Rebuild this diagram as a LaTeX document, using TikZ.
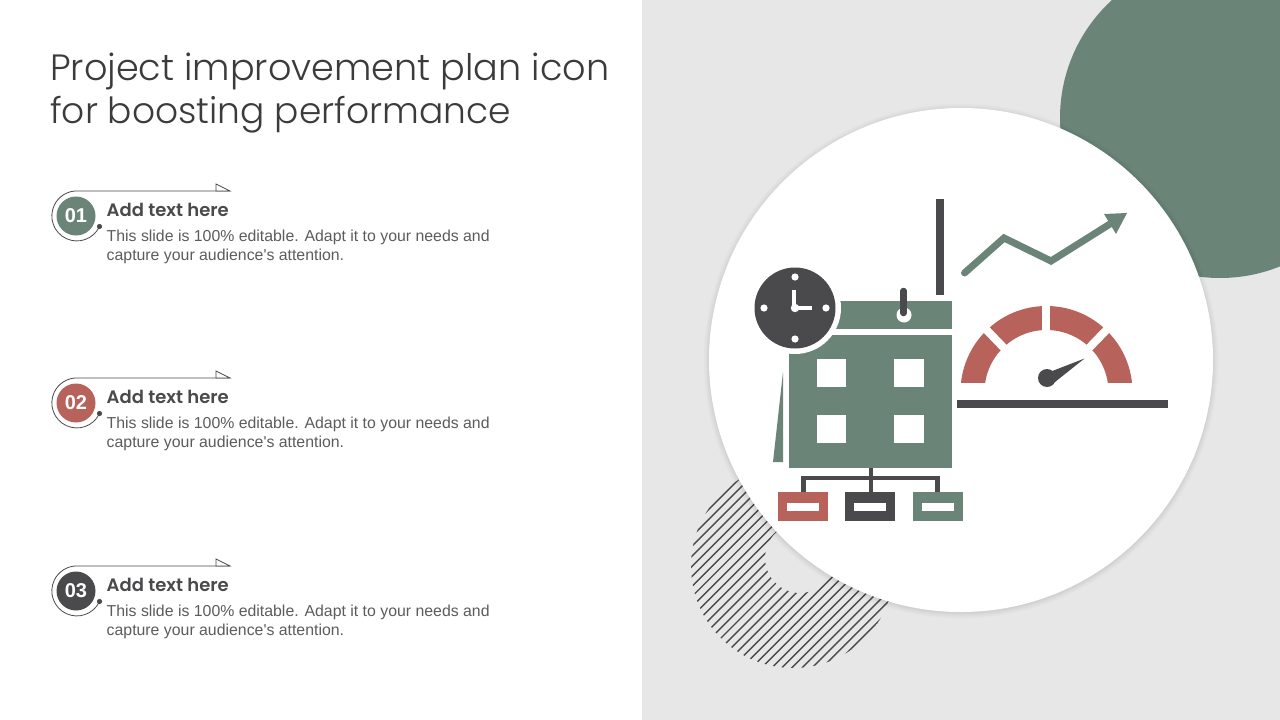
\documentclass[tikz,border=0pt]{standalone}
\usepackage{fontspec}
\setmainfont{Liberation Sans}[Ligatures=TeXOff]
\newfontfamily\titlefont{Poppins Light}
\newfontfamily\headfont{Poppins SemiBold}
\definecolor{sage}{HTML}{6B8478}
\definecolor{brick}{HTML}{B7625B}
\definecolor{ink}{HTML}{4A4A4C}
\definecolor{panel}{HTML}{E7E7E7}
\tikzset{
  titletext/.style={anchor=base west,inner sep=0,text=ink!80!black,font=\titlefont\fontsize{36.6}{36.6}\selectfont},
  headtext/.style={anchor=base west,inner sep=0,text=ink,font=\headfont\fontsize{18}{18}\selectfont},
  bodytext/.style={anchor=base west,inner sep=0,text=ink!90!white,font=\fontsize{15.85}{15.85}\selectfont},
  numtext/.style={inner sep=0,text=white,font=\bfseries\fontsize{20}{20}\selectfont},
  thinline/.style={draw=ink,line width=0.8pt},
}
\newcommand{\legend}[3]{%
  \fill[#2] (76,#1) circle (19.5);
  \node[numtext] (num#3) at (76,#1) {#3};
  \draw[thinline] (99.5,#1+10.5) arc[start angle=25,end angle=270,radius=25] -- (230,#1-25);
  \draw[thinline,fill=white] (216,#1-32) -- (230,#1-25) -- (216,#1-25) -- cycle;
  \fill[ink] (99.5,#1+10.5) circle (2.6);
  \node[headtext] (head#3) at (106.5,#1) {Add text here};
  \node[bodytext] (bodya#3) at (106.5,#1+25) {This slide is 100\% editable. Adapt it to your needs and};
  \node[bodytext] (bodyb#3) at (106.5,#1+44) {capture your audience's attention.};
}
\begin{document}
\begin{tikzpicture}[x=1pt,y=-1pt]
\useasboundingbox (0,0) rectangle (1280,720);
\fill[white] (0,0) rectangle (1280,720);
\fill[panel] (642,0) rectangle (1280,720);
% green disc
\begin{scope}
\clip (642,0) rectangle (1280,720);
\fill[sage] (1220,118) circle (160);
\end{scope}
% hatched ring
\begin{scope}[even odd rule]
\clip (793,566) circle (102) (800,558) circle (35);
\foreach \k in {0,...,28}{
  \draw[ink,line width=1.4pt] ({1218+10.07*\k-700},700) -- ({1218+10.07*\k-400},400);
}
\end{scope}
% white disc with soft shadow
\foreach \r/\o in {257.5/0.012,256.5/0.012,255.5/0.012,254.5/0.014,253.5/0.016,252.5/0.018}{
  \fill[black,opacity=\o] (961,361) circle (\r);
}
\fill[white] (961,360) circle (252);
% title
\node[titletext] (title1) at (50,80.5) {Project improvement plan icon};
\node[titletext,font=\titlefont\fontsize{36}{36}\selectfont] (title2) at (50,123.5) {for boosting performance};
% legend items
\legend{216}{sage}{01}
\legend{403}{brick}{02}
\legend{591}{ink}{03}
% calendar
\fill[sage] (789,301) rectangle (952,329);
\fill[sage] (789,335) rectangle (952,468);
\fill[sage] (783,372) -- (783,462) -- (773,462) -- cycle;
\foreach \x/\w in {817/29,894/30}{
  \foreach \y in {359,415}{
    \fill[white] (\x,\y) rectangle ++(\w,28);
  }
}
\fill[white] (904,315) circle (7.5);
\draw[ink,line width=6.5pt,line cap=round] (903.5,291) -- (903.5,313);
\fill[ink] (936,199) rectangle (944,295);
% clock
\fill[white] (795,308) circle (46);
\fill[ink] (795,308) circle (40.5);
\foreach \a in {0,90,180,270}{
  \fill[white] (795,308) ++(\a:31) circle (3.6);
}
\draw[white,line width=3.6pt] (794,290) -- (794,308) -- (812,308);
\fill[white] (795,308) circle (4.2);
% trend arrow
\draw[sage,line width=7pt,line cap=round,line join=miter] (964.5,273) -- (1004,238) -- (1051,261) -- (1110,224);
\fill[sage] (1104,214) -- (1127,213) -- (1116,234) -- cycle;
% gauge
\begin{scope}
\clip (950,290) rectangle (1150,382);
\fill[brick,even odd rule] (1046.5,392) circle (86) (1046.5,392) circle (62);
\draw[white,line width=8pt] (1046,392) -- (1046,290);
\draw[white,line width=8pt] (1046.5,392) -- ++(-46:110);
\draw[white,line width=8pt] (1046.5,392) -- ++(-134:110);
\end{scope}
\fill[ink] (1047,378) circle (9);
\fill[ink] (1051,371.5) -- (1084.5,358.5) -- (1055,382) -- cycle;
\fill[ink] (957,400) rectangle (1168,408);
% org chart
\fill[ink] (869,468) rectangle (873,492);
\fill[ink] (801,476) rectangle (940,480);
\fill[ink] (801,476) rectangle (806,492);
\fill[ink] (935,476) rectangle (940,492);
\foreach \x/\c in {778/brick,845/ink,913/sage}{
  \fill[\c] (\x,492) rectangle ++(50,29);
  \fill[white] (\x+9,503) rectangle ++(32,8);
}
\end{tikzpicture}
\end{document}
